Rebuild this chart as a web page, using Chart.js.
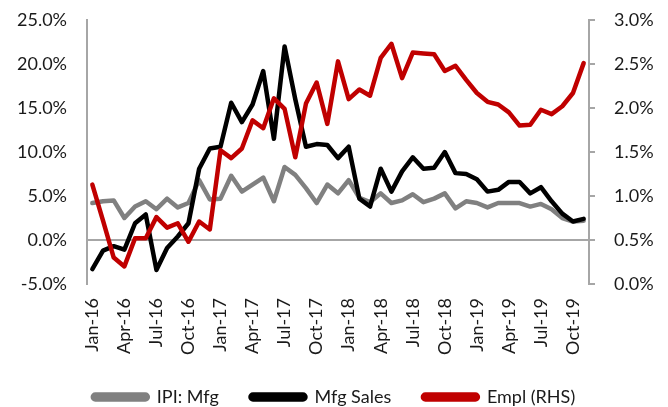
<!DOCTYPE html>
<html>
<head>
<meta charset="utf-8">
<script src="https://cdn.jsdelivr.net/npm/chart.js@4.4.1/dist/chart.umd.min.js"></script>
<style>
  html, body { margin: 0; padding: 0; background: #fff; }
  #wrap { width: 668px; height: 407px; position: relative; }
</style>
</head>
<body>
<div id="wrap"><canvas id="myChart" width="668" height="407"></canvas></div>
<script>
var months = [
    'Jan-16', 'Feb-16', 'Mar-16', 'Apr-16', 'May-16', 'Jun-16', 'Jul-16', 'Aug-16', 'Sep-16', 'Oct-16', 'Nov-16', 'Dec-16',
    'Jan-17', 'Feb-17', 'Mar-17', 'Apr-17', 'May-17', 'Jun-17', 'Jul-17', 'Aug-17', 'Sep-17', 'Oct-17', 'Nov-17', 'Dec-17',
    'Jan-18', 'Feb-18', 'Mar-18', 'Apr-18', 'May-18', 'Jun-18', 'Jul-18', 'Aug-18', 'Sep-18', 'Oct-18', 'Nov-18', 'Dec-18',
    'Jan-19', 'Feb-19', 'Mar-19', 'Apr-19', 'May-19', 'Jun-19', 'Jul-19', 'Aug-19', 'Sep-19', 'Oct-19', 'Nov-19'
];

// IPI: Mfg, % yoy (left axis)
var ipiMfg = [
    4.2, 4.4, 4.5, 2.5, 3.8, 4.4, 3.5, 4.7, 3.7, 4.2, 6.8, 4.6,
    4.7, 7.3, 5.5, 6.3, 7.1, 4.4, 8.3, 7.4, 5.9, 4.2, 6.3, 5.3,
    6.8, 4.8, 4.3, 5.3, 4.2, 4.5, 5.2, 4.3, 4.7, 5.3, 3.6, 4.4,
    4.2, 3.7, 4.2, 4.2, 4.2, 3.8, 4.1, 3.5, 2.5, 2.1, 2.2
];

// Mfg Sales, % yoy (left axis)
var mfgSales = [
    -3.3, -1.2, -0.7, -1.1, 1.9, 2.9, -3.4, -0.9, 0.4, 1.9, 8.1, 10.4,
    10.6, 15.6, 13.4, 15.4, 19.2, 11.5, 22.0, 16.0, 10.6, 10.9, 10.8, 9.3,
    10.6, 4.7, 3.8, 8.1, 5.5, 7.8, 9.4, 8.1, 8.2, 10.0, 7.6, 7.5,
    6.9, 5.5, 5.7, 6.6, 6.6, 5.3, 6.0, 4.4, 3.0, 2.1, 2.4
];

// Empl (RHS), % yoy (right axis)
var empl = [
    1.13, 0.72, 0.30, 0.20, 0.52, 0.52, 0.76, 0.64, 0.69, 0.48, 0.71, 0.62,
    1.52, 1.43, 1.54, 1.86, 1.77, 2.11, 1.99, 1.44, 2.05, 2.29, 1.82, 2.53,
    2.10, 2.21, 2.14, 2.57, 2.73, 2.34, 2.63, 2.62, 2.61, 2.42, 2.48, 2.32,
    2.17, 2.07, 2.04, 1.95, 1.80, 1.81, 1.98, 1.93, 2.02, 2.17, 2.51
];

var seriesNames = ['IPI: Mfg', 'Mfg Sales', 'Empl (RHS)'];
var colors = ['#808080', '#000000', '#c00000'];

Chart.defaults.font.family = "Lato, 'Open Sans', sans-serif";
Chart.defaults.font.size = 18;
Chart.defaults.color = '#1a1a1a';

function pct(v) {
    return Number(v).toFixed(1) + '%';
}

function mkSet(label, data, color, axis, order) {
    return {
        label: label,
        data: data,
        borderColor: color,
        backgroundColor: color,
        borderWidth: 4.5,
        borderJoinStyle: 'round',
        borderCapStyle: 'round',
        pointRadius: 0,
        tension: 0,
        yAxisID: axis,
        order: order
    };
}

// keep the plot box where the reference has it
function noPad(scale) {
    scale.paddingTop = 0;
    scale.paddingBottom = 0;
}

var ctx = document.getElementById('myChart').getContext('2d');
var lineChart = new Chart(ctx, {
    type: 'line',
    data: {
        labels: months,
        datasets: [
            mkSet(seriesNames[0], ipiMfg, colors[0], 'y', 3),
            mkSet(seriesNames[1], mfgSales, colors[1], 'y', 2),
            mkSet(seriesNames[2], empl, colors[2], 'y2', 1)
        ]
    },
    options: {
        responsive: false,
        animation: false,
        layout: {
            // negative bottom pushes the legend down to the canvas edge
            padding: { top: 20, left: 0, right: 0, bottom: -9 }
        },
        plugins: {
            tooltip: { enabled: false },
            legend: {
                position: 'bottom',
                labels: {
                    boxWidth: 55,
                    boxHeight: 5,
                    padding: 4,
                    useBorderRadius: true,
                    borderRadius: 2.5,
                    font: { size: 18 },
                    // wider gap between items, like the reference
                    generateLabels: function (chart) {
                        var items = Chart.defaults.plugins.legend.labels.generateLabels(chart);
                        items.sort(function (a, b) { return a.datasetIndex - b.datasetIndex; });
                        items.forEach(function (it, i) {
                            if (i < items.length - 1) it.text = it.text + '      ';
                        });
                        return items;
                    }
                }
            }
        },
        scales: {
            x: {
                offset: true,
                grid: { display: false },
                border: { display: false },
                ticks: {
                    autoSkip: false,
                    maxRotation: 90,
                    minRotation: 90,
                    padding: 6,
                    font: { size: 18 },
                    callback: function (val, idx) {
                        return idx % 3 === 0 ? months[idx] : '';
                    }
                },
                afterFit: function (scale) {
                    scale.height = 100;
                    noPad(scale);
                }
            },
            y: {
                position: 'left',
                min: -5,
                max: 25,
                ticks: {
                    stepSize: 5,
                    padding: 20,
                    font: { size: 18 },
                    callback: pct
                },
                border: { display: true, color: '#a6a6a6', width: 2 },
                grid: {
                    drawTicks: false,
                    color: function (c) {
                        return c.tick && c.tick.value === 0 ? '#a6a6a6' : 'rgba(0,0,0,0)';
                    },
                    lineWidth: 2
                },
                afterFit: function (scale) {
                    scale.width = 87;
                    noPad(scale);
                }
            },
            y2: {
                position: 'right',
                min: 0,
                max: 3,
                ticks: {
                    stepSize: 0.5,
                    padding: 19,
                    font: { size: 18 },
                    callback: pct
                },
                border: { display: true, color: '#a6a6a6', width: 2 },
                grid: {
                    drawOnChartArea: false,
                    drawTicks: true,
                    tickLength: 6,
                    tickColor: '#a6a6a6',
                    lineWidth: 2
                },
                afterFit: function (scale) {
                    scale.width = 79;
                    noPad(scale);
                }
            }
        }
    }
});
</script>
</body>
</html>
